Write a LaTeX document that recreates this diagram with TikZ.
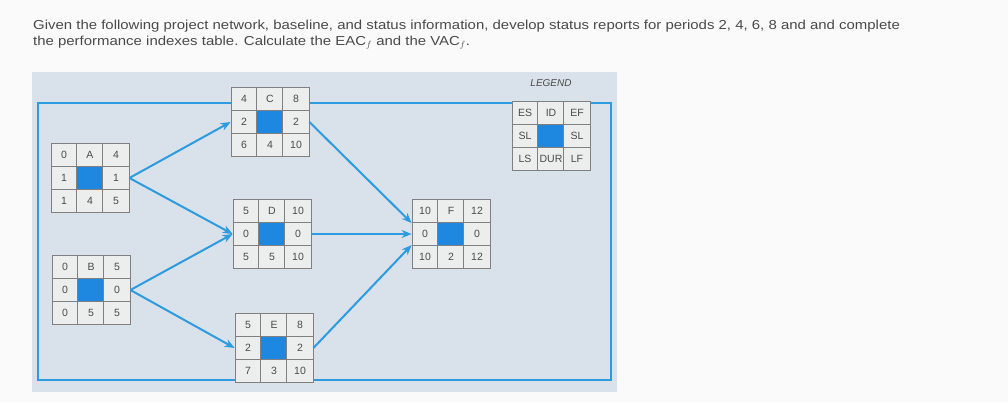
\documentclass[tikz,border=0pt]{standalone}
\usepackage{fontspec}
\setmainfont{Liberation Sans}
\newfontfamily\titlefont[FakeStretch=1.15]{Liberation Sans}
\definecolor{panel}{HTML}{D9E2EA}
\definecolor{lineb}{HTML}{2E9BE0}
\definecolor{cellb}{HTML}{1E88E0}
\definecolor{cellg}{HTML}{ECEEEE}
\definecolor{txt}{HTML}{4A4A4A}
\usetikzlibrary{arrows.meta,calc}
\tikzset{box/.style={draw=txt!70,fill=cellg,minimum width=78pt,minimum height=69pt,inner sep=0pt,line width=0.8pt},
 cell/.style={font=\fontsize{10.5}{12}\selectfont,text=txt},
 conn/.style={draw=lineb,line width=2pt,-{Stealth[length=10pt,width=8pt]}}}
\newcommand\nbox[4]{%
 \node[box] (#1) at (#2,#3) {};
 \fill[cellb] ($(#1.center)+(-13,-11.5)$) rectangle ($(#1.center)+(13,11.5)$);
 \draw[txt!70,line width=0.6pt] ($(#1.north west)+(26,0)$) -- ($(#1.south west)+(26,0)$)
   ($(#1.north west)+(52,0)$) -- ($(#1.south west)+(52,0)$)
   ($(#1.north west)+(0,23)$) -- ($(#1.north east)+(0,23)$)
   ($(#1.north west)+(0,46)$) -- ($(#1.north east)+(0,46)$);
 \foreach \t [count=\i from 0] in {#4} {%
   \pgfmathtruncatemacro\cx{mod(\i,3)-1}\pgfmathtruncatemacro\cy{div(\i,3)-1}%
   \node[cell] at ($(#1.center)+(\cx*26,\cy*23)$) {\t};}%
}
\begin{document}
\begin{tikzpicture}[x=1pt,y=-1pt]
\useasboundingbox (0,0) rectangle (1008,402);
\fill[white!96!gray] (0,0) rectangle (1008,402);
\node[anchor=north west,align=left,text=txt,font=\titlefont\fontsize{13}{15.5}\selectfont,inner sep=0pt] (title) at (33,20)
 {Given the following project network, baseline, and status information, develop status reports for periods 2, 4, 6, 8 and and complete\\
  the performance indexes table. Calculate the EAC$_f$ and the VAC$_f$.};
\fill[panel] (32,72) rectangle (617,392);
\draw[lineb,line width=1.8pt] (38,103) rectangle (611,380);
\nbox{A}{90}{178}{0,A,4,1,,1,1,4,5}
\nbox{B}{91}{290}{0,B,5,0,,0,0,5,5}
\nbox{C}{270}{122}{4,C,8,2,,2,6,4,10}
\nbox{D}{272}{234}{5,D,10,0,,0,5,5,10}
\nbox{E}{274}{348}{5,E,8,2,,2,7,3,10}
\nbox{F}{451}{234}{10,F,12,0,,0,10,2,12}
\nbox{L}{551}{136}{ES,ID,EF,SL,,SL,LS,DUR,LF}
\node[font=\itshape\fontsize{10}{11}\selectfont,text=txt] (leg) at (551,83) {LEGEND};
\draw[conn] (A.east) -- (C.west);
\draw[conn] (A.east) -- (D.west);
\draw[conn] (B.east) -- (D.west);
\draw[conn] (B.east) -- (E.west);
\draw[conn] (C.east) -- ($(F.west)+(0,-11)$);
\draw[conn] (D.east) -- (F.west);
\draw[conn] (E.east) -- ($(F.west)+(0,11)$);
\end{tikzpicture}
\end{document}
